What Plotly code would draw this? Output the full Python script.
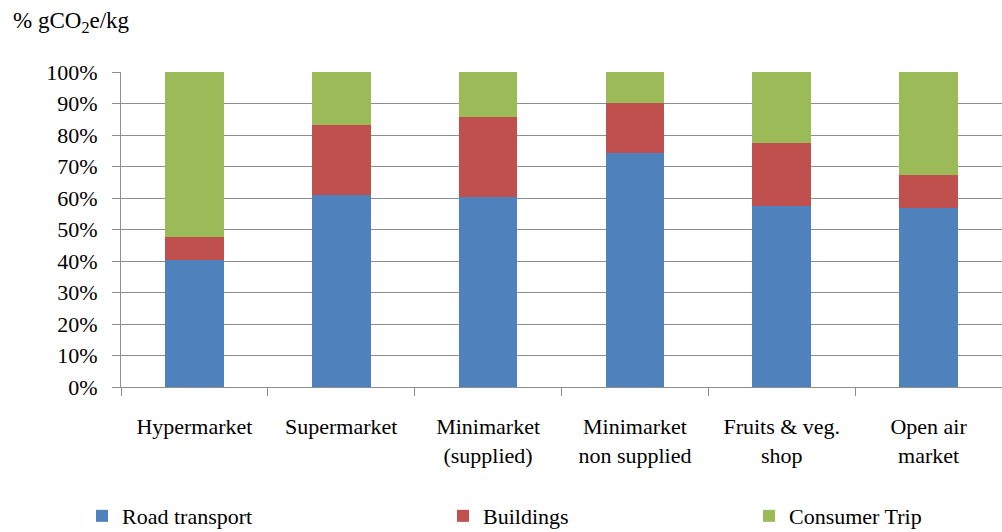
import plotly.graph_objects as go

categories = ["Hypermarket", "Supermarket", "Minimarket<br>(supplied)",
              "Minimarket<br>non supplied", "Fruits & veg.<br>shop", "Open air<br>market"]
road_transport = [40.3, 60.8, 60.2, 74.4, 57.6, 56.8]
buildings = [7.2, 22.5, 25.5, 15.9, 19.8, 10.6]
consumer_trip = [52.5, 16.7, 14.3, 9.7, 22.6, 32.6]
y_ticks = list(range(0, 101, 10))
y_labels = [f"{v}%" for v in y_ticks]

series = [("Road transport", road_transport, "#4F81BD", "legend"),
          ("Buildings", buildings, "#C0504D", "legend2"),
          ("Consumer Trip", consumer_trip, "#9BBB59", "legend3")]

FONT = "Liberation Serif"
GRID = "#8E8E8E"

fig = go.Figure()
for name, vals, color, leg in series:
    fig.add_trace(go.Bar(x=categories, y=vals, name=name, marker_color=color,
                         marker_line_width=0, legend=leg, showlegend=True))

legend_style = dict(orientation="h", xref="container", yref="container",
                    yanchor="middle", y=0.03, xanchor="left",
                    font=dict(family=FONT, size=22, color="#000"),
                    bgcolor="rgba(0,0,0,0)", visible=True)

fig.update_layout(
    barmode="stack",
    bargap=0.6,
    width=1002, height=532,
    margin=dict(l=121, r=0, t=72, b=145),
    plot_bgcolor="white", paper_bgcolor="white",
    font=dict(family=FONT, size=22, color="#000"),
    legend=dict(legend_style, x=82 / 1002),
    legend2=dict(legend_style, x=443 / 1002),
    legend3=dict(legend_style, x=749 / 1002),
    xaxis=dict(showline=True, linecolor=GRID, ticks="outside", tickson="boundaries",
               ticklen=8, tickcolor=GRID, showgrid=False, ticklabelstandoff=20,
               tickfont=dict(family=FONT, size=22, color="#000")),
    yaxis=dict(range=[0, 100], tickvals=y_ticks, ticktext=y_labels,
               showline=True, linecolor=GRID, ticks="outside", ticklabelstandoff=10,
               ticklen=8, tickcolor=GRID, gridcolor=GRID, gridwidth=1,
               zeroline=False, tickfont=dict(family=FONT, size=22, color="#000")),
)

fig.add_annotation(text="% gCO<sub>2</sub>e/kg", xref="paper", yref="paper",
                   x=-110 / 881, y=1.16, xanchor="left", yanchor="middle",
                   showarrow=False, font=dict(family=FONT, size=23, color="#000"))

fig.write_html("out.html", config={"displayModeBar": False},
               post_script="document.body.style.margin='0';")
